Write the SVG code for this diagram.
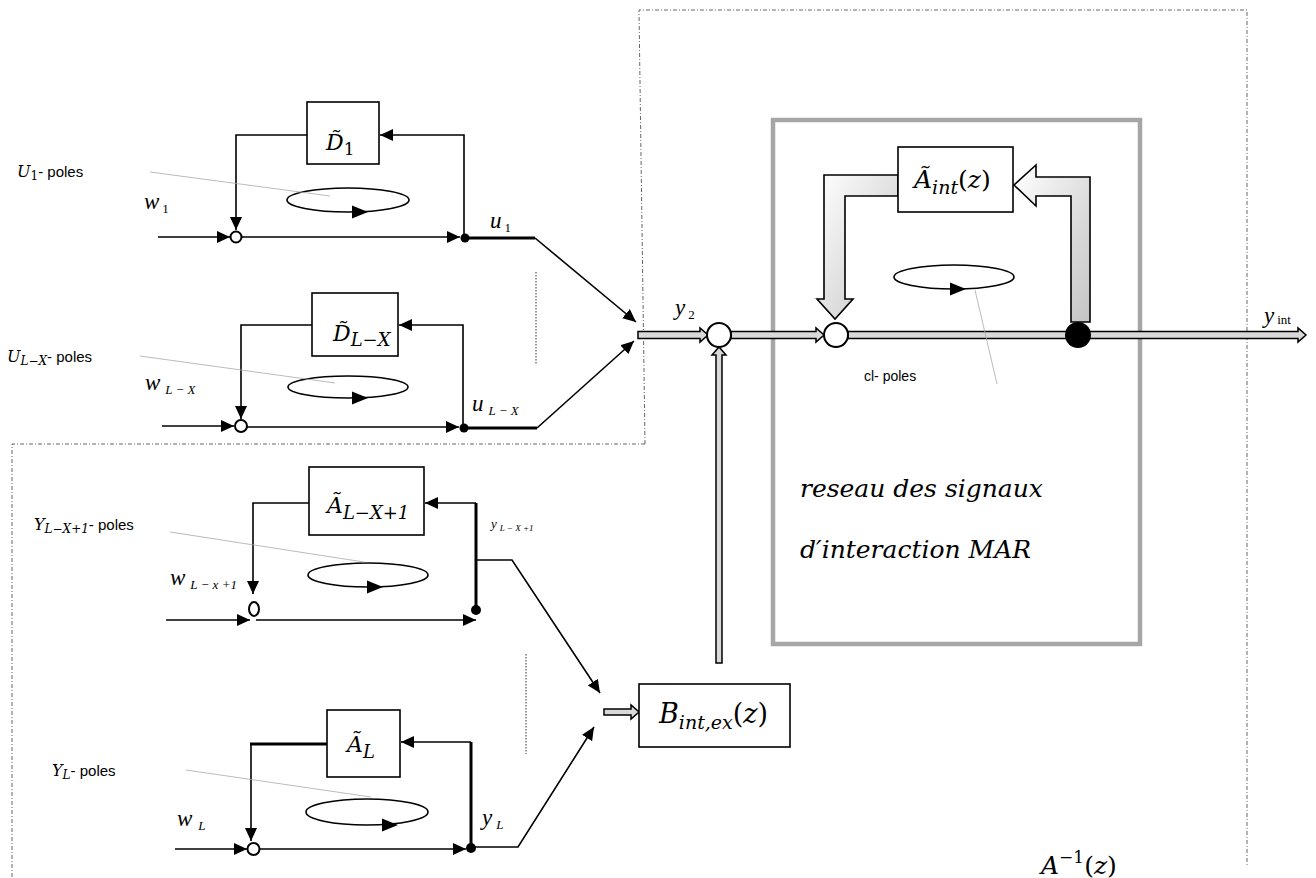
<svg xmlns="http://www.w3.org/2000/svg" width="1316" height="878" viewBox="0 0 1316 878">
<style>
.ln{fill:none;stroke:#000;stroke-width:1.6}
.thk{fill:none;stroke:#000;stroke-width:3}
.box{fill:#fff;stroke:#000;stroke-width:1.6}
.sum{fill:#fff;stroke:#000;stroke-width:2}
.dot{fill:#000}
.gray{fill:none;stroke:#aaa;stroke-width:0.8}
.dash{fill:none;stroke:#555;stroke-width:0.9;stroke-dasharray:4 2 1 2}
.dotv{fill:none;stroke:#999;stroke-width:2;stroke-dasharray:1.5 1.5}
.band{fill:#d9d9d9;stroke:#000;stroke-width:1.5}
.blk{fill:url(#g);stroke:#000;stroke-width:1.6}
.c{font-family:"DejaVu Serif","Liberation Serif",serif;font-style:italic;fill:#000}
.cu{font-family:"DejaVu Serif","Liberation Serif",serif;font-style:normal;fill:#000}
.m{font-family:"Liberation Serif","DejaVu Serif",serif;font-style:italic;fill:#000}
.r{font-family:"Liberation Serif","DejaVu Serif",serif;font-style:normal;fill:#000}
.s{font-family:"Liberation Sans","Open Sans",sans-serif;fill:#000}
</style>
<defs>
<marker id="ah" markerUnits="userSpaceOnUse" markerWidth="13" markerHeight="12" refX="13" refY="6" orient="auto"><path d="M0,0 L13,6 L0,12 z" fill="#000"/></marker>
<path id="la" d="M-8,-6.5 L8,0 L-8,6.5 z" fill="#000"/>
<linearGradient id="g" x1="0" y1="0" x2="1" y2="1"><stop offset="0" stop-color="#ffffff"/><stop offset="1" stop-color="#c4c4c4"/></linearGradient>
</defs>

<g id="frames">
<path class="dash" d="M645,444 L639,10 L1247,10 L1247,865"/>
<path class="dash" d="M645,444 H12 V878"/>
<rect x="773" y="120" width="367" height="524" fill="none" stroke="#a6a6a6" stroke-width="4.5"/>
<path class="dotv" d="M536,272 V365"/>
<path class="dotv" d="M526,654 V754"/>
</g>

<g id="connectors">
<path class="ln" d="M307,135 H236 V230" marker-end="url(#ah)"/>
<path class="ln" d="M464,238 V135 H380" marker-end="url(#ah)"/>
<path class="ln" d="M158,237 H230" marker-end="url(#ah)"/>
<path class="ln" d="M242,237 H460" marker-end="url(#ah)"/>
<path class="thk" d="M465,238 H535"/>
<path class="ln" d="M535,238 L636,322" marker-end="url(#ah)"/>
<path class="ln" d="M312,325 H241 V419" marker-end="url(#ah)"/>
<path class="ln" d="M463,428 V325 H399" marker-end="url(#ah)"/>
<path class="ln" d="M162,426 H234" marker-end="url(#ah)"/>
<path class="ln" d="M247,427 H459" marker-end="url(#ah)"/>
<path class="thk" d="M464,428 H537"/>
<path class="ln" d="M537,428 L634,341" marker-end="url(#ah)"/>
<path class="ln" d="M309,503 H253 V594" marker-end="url(#ah)"/>
<path class="thk" d="M476,610 V503"/>
<path class="ln" d="M476,503 H425" marker-end="url(#ah)"/>
<path class="ln" d="M166,620 H250" marker-end="url(#ah)"/>
<path class="ln" d="M256,620 H476" marker-end="url(#ah)"/>
<path class="ln" d="M476,560 H512 L600,693" marker-end="url(#ah)"/>
<path class="thk" d="M327,744 H250"/>
<path class="ln" d="M251,744 V841" marker-end="url(#ah)"/>
<path class="thk" d="M471,848 V742"/>
<path class="ln" d="M471,742 H401" marker-end="url(#ah)"/>
<path class="ln" d="M175,849 H247" marker-end="url(#ah)"/>
<path class="ln" d="M260,849 H466" marker-end="url(#ah)"/>
<path class="ln" d="M471,847 H518 L594,727" marker-end="url(#ah)"/>
<path class="band" d="M638,331.5 H700 V328 L708,335 L700,342 V338.5 H638 Z"/>
<path class="band" d="M731,331.5 H816 V328 L824,335 L816,342 V338.5 H731 Z"/>
<path class="band" d="M848,331.5 H1298 V328 L1306,335 L1298,342 V338.5 H848 Z"/>
<path class="band" d="M716,663 V355 H712 L719,347 L726,355 H722 V663 Z"/>
<path class="band" d="M604,709 H631 V705 L639,712 L631,719 V715 H604 Z"/>
<path class="blk" d="M898,175 H824 V299 H817 L835,319 L853,299 H845 V196 H898 Z"/>
<path class="blk" d="M1071,322 V196 H1036 V206 L1014,185 L1036,165 V177 H1090 V322 Z"/>
</g>

<g id="loops">
<ellipse class="ln" cx="348" cy="200" rx="61" ry="12"/>
<use href="#la" x="360" y="212"/>
<ellipse class="ln" cx="348" cy="387" rx="60" ry="11"/>
<use href="#la" x="360" y="398"/>
<ellipse class="ln" cx="368" cy="575" rx="60" ry="12"/>
<use href="#la" x="375" y="587"/>
<ellipse class="ln" cx="367" cy="812" rx="61" ry="13"/>
<use href="#la" x="390" y="825"/>
<ellipse class="ln" cx="954" cy="277" rx="60" ry="12"/>
<use href="#la" x="958" y="289"/>
<path class="gray" d="M150,172 L330,196"/>
<path class="gray" d="M140,356 L335,383"/>
<path class="gray" d="M170,532 L364,562"/>
<path class="gray" d="M186,770 L371,797"/>
<path class="gray" d="M975,290 L997,384"/>
</g>

<g id="junctions">
<circle class="sum" cx="236" cy="237" r="5.5"/>
<circle class="dot" cx="465" cy="238" r="4.5"/>
<circle class="sum" cx="241" cy="426" r="6"/>
<circle class="dot" cx="464" cy="428" r="4.5"/>
<ellipse class="sum" cx="254" cy="609" rx="5" ry="7"/>
<circle class="dot" cx="476" cy="610" r="5"/>
<circle class="sum" cx="253.5" cy="849" r="6"/>
<circle class="dot" cx="471" cy="848" r="5"/>
<circle class="sum" cx="719" cy="335" r="12"/>
<circle class="sum" cx="836" cy="335" r="12"/>
<circle class="dot" cx="1078" cy="335" r="13"/>
</g>

<g id="node-D1">
<rect class="box" x="307" y="102" width="72" height="62"/>
<text class="c" x="326" y="150" font-size="22">D&#x303;<tspan class="cu" font-size="17" dy="5">1</tspan></text>
</g>
<g id="node-DLX">
<rect class="box" x="312" y="293" width="86" height="63"/>
<text class="c" x="333" y="341" font-size="22">D&#x303;<tspan font-size="18" dy="5">L−X</tspan></text>
</g>
<g id="node-ALX1">
<rect class="box" x="309" y="467" width="115" height="68"/>
<text class="c" x="327" y="513" font-size="22">Ã<tspan font-size="18" dy="6">L−X+1</tspan></text>
</g>
<g id="node-AL">
<rect class="box" x="327" y="710" width="73" height="67"/>
<text class="c" x="347" y="752" font-size="22">Ã<tspan font-size="18" dy="6">L</tspan></text>
</g>
<g id="node-Aint">
<rect class="box" x="898" y="147" width="115" height="65"/>
<text class="c" x="914" y="188" font-size="25">Ã<tspan font-size="19" dy="6">int</tspan><tspan class="cu" font-size="25" dy="-6">(</tspan>z<tspan class="cu">)</tspan></text>
</g>
<g id="node-Bintex">
<rect class="box" x="639" y="684" width="151" height="63"/>
<text class="c" x="659" y="723" font-size="27">B<tspan font-size="19" dy="6">int,ex</tspan><tspan class="cu" font-size="27" dy="-6">(</tspan>z<tspan class="cu">)</tspan></text>
</g>

<g id="labels">
<text x="17" y="177"><tspan class="c" font-size="16">U</tspan><tspan class="cu" font-size="12" dy="3">1</tspan><tspan class="s" font-size="15" dy="-3">- poles</tspan></text>
<text x="7" y="362"><tspan class="c" font-size="16">U</tspan><tspan class="c" font-size="12" dy="3">L−X</tspan><tspan class="s" font-size="15" dy="-3">- poles</tspan></text>
<text x="34" y="530"><tspan class="c" font-size="16">Y</tspan><tspan class="c" font-size="12" dy="3">L−X+1</tspan><tspan class="s" font-size="15" dy="-3">- poles</tspan></text>
<text x="52" y="776"><tspan class="c" font-size="16">Y</tspan><tspan class="c" font-size="12" dy="3">L</tspan><tspan class="s" font-size="15" dy="-3">- poles</tspan></text>
<text class="s" x="864" y="381" font-size="14">cl- poles</text>
<text class="m" x="144" y="209" font-size="23">w<tspan class="r" font-size="13" dx="3" dy="4">1</tspan></text>
<text class="m" x="145" y="390" font-size="23">w<tspan font-size="13" dx="5" dy="4">L − X</tspan></text>
<text class="m" x="170" y="585" font-size="23">w<tspan font-size="13" dx="5" dy="4">L − x +1</tspan></text>
<text class="m" x="177" y="826" font-size="23">w<tspan font-size="13" dx="6" dy="4">L</tspan></text>
<text class="m" x="490" y="228" font-size="23">u<tspan class="r" font-size="13" dx="3" dy="4">1</tspan></text>
<text class="m" x="472" y="411" font-size="23">u<tspan font-size="13" dx="5" dy="4">L − X</tspan></text>
<text class="m" x="491" y="528" font-size="13">y<tspan font-size="9" dx="3" dy="3">L − X +1</tspan></text>
<text class="m" x="482" y="825" font-size="23">y<tspan font-size="13" dx="4" dy="4">L</tspan></text>
<text class="m" x="675" y="315" font-size="23">y<tspan class="r" font-size="13" dx="3" dy="4">2</tspan></text>
<text class="m" x="1264" y="323" font-size="23">y<tspan class="r" font-size="13" dx="3" dy="1">int</tspan></text>
<text class="c" x="800" y="497" font-size="25">reseau des signaux</text>
<text class="c" x="800" y="558" font-size="25">d′interaction MAR</text>
<text class="c" x="1041" y="874" font-size="25">A<tspan class="cu" font-size="17" dy="-11">−1</tspan><tspan class="cu" font-size="25" dy="11">(</tspan>z<tspan class="cu">)</tspan></text>
</g>
</svg>
